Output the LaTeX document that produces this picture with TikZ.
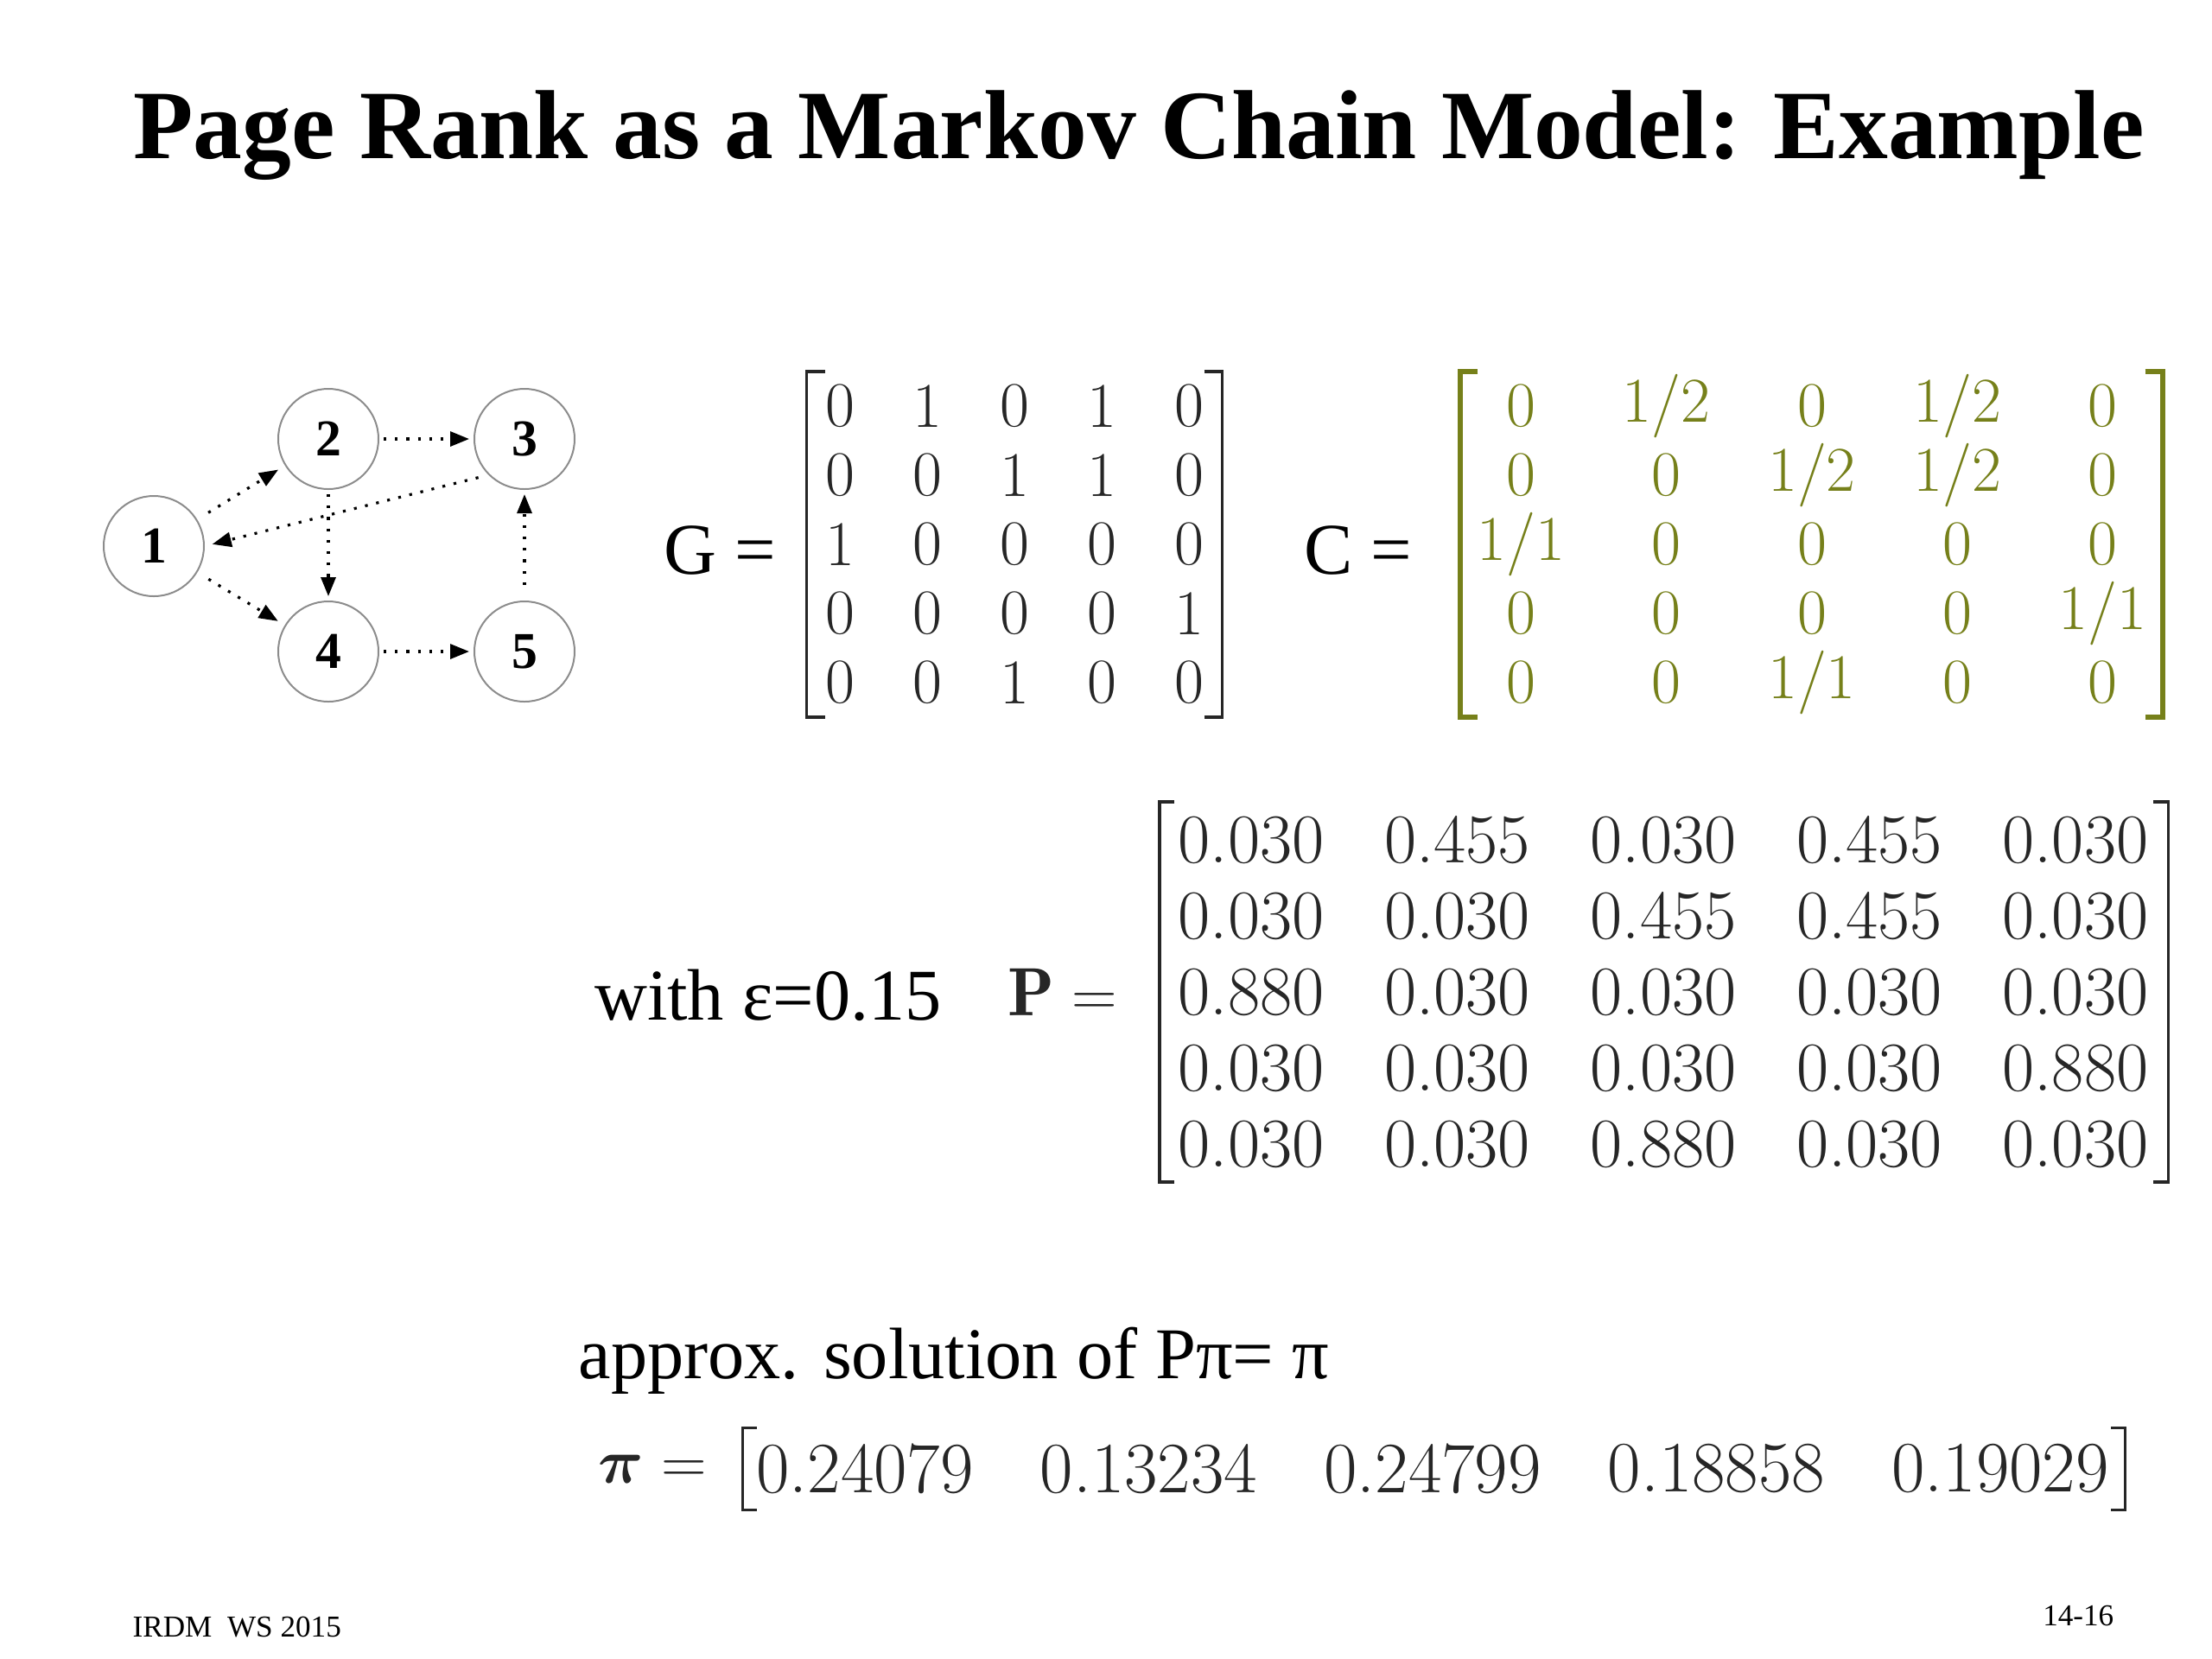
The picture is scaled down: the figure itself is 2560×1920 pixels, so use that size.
\documentclass[tikz,border=0pt]{standalone}
\usepackage{fontspec}
\usepackage{amsmath}
\usepackage{tikz}
\usetikzlibrary{arrows.meta,matrix}
\newfontfamily\slidefont{Liberation Serif}
\definecolor{Olive}{HTML}{76801A}
\definecolor{Ink}{HTML}{262626}
\definecolor{RingGray}{HTML}{8C8C8C}

\begin{document}
\begin{tikzpicture}[
    x=0.1mm,y=-0.1mm,
    vertex/.style={circle,draw=RingGray,line width=0.2mm,minimum size=11.6mm,inner sep=0pt,font=\slidefont\bfseries\fontsize{17}{17}\selectfont},
    link/.style={-{Triangle[length=2.2mm,width=1.7mm]},line width=0.32mm,dash pattern=on 0.32mm off 1mm},
    lbl/.style={inner sep=0pt,font=\slidefont\fontsize{24}{26}\selectfont},
    foot/.style={inner sep=0pt,font=\slidefont\fontsize{10}{11}\selectfont},
    mat/.style={matrix of nodes,inner sep=0pt,outer sep=0pt,text=Ink,font=\fontsize{21}{21}\selectfont,nodes={inner sep=0pt,anchor=center}},
    brk/.style={line width=0.35mm,draw=Ink}
]
\useasboundingbox (0,0) rectangle (2560,1920);

\node[font=\slidefont\bfseries\fontsize{32.3}{34}\selectfont,anchor=base] (title) at (1318,183) {Page Rank as a Markov Chain Model: Example};

% link graph
\node[vertex] (n1) at (178,632) {1};
\node[vertex] (n2) at (380,508) {2};
\node[vertex] (n3) at (607,508) {3};
\node[vertex] (n4) at (380,754) {4};
\node[vertex] (n5) at (607,754) {5};
\draw[link,shorten <=1.5mm,shorten >=0.9mm] (n1) -- (n2);
\draw[link,shorten <=1.5mm,shorten >=0.9mm] (n1) -- (n4);
\draw[link,shorten <=0.5mm,shorten >=0.5mm] (n2) -- (n3);
\draw[link,shorten <=0.5mm,shorten >=0.5mm] (n2) -- (n4);
\draw[link,shorten <=1.2mm,shorten >=0.9mm] (n3.225) -- (n1.east);
\draw[link,shorten <=0.5mm,shorten >=0.5mm] (n4) -- (n5);
\draw[link,shorten <=1.8mm,shorten >=0.5mm] (n5) -- (n3);

% adjacency matrix G
\node[lbl] (Glbl) at (833,637) {G =};
\matrix (G) [mat,nodes={minimum width=10.1mm,minimum height=8mm}] at (1174,630) {
0 & 1 & 0 & 1 & 0 \\
0 & 0 & 1 & 1 & 0 \\
1 & 0 & 0 & 0 & 0 \\
0 & 0 & 0 & 0 & 1 \\
0 & 0 & 1 & 0 & 0 \\
};
\draw[brk] ([xshift=3.3mm]G.north west) -- ([xshift=1.2mm]G.north west) -- ([xshift=1.2mm]G.south west) -- ([xshift=3.3mm]G.south west);
\draw[brk] ([xshift=-3.3mm]G.north east) -- ([xshift=-1.2mm]G.north east) -- ([xshift=-1.2mm]G.south east) -- ([xshift=-3.3mm]G.south east);

% transition matrix C
\node[lbl] (Clbl) at (1572,637) {C =};
\matrix (C) [mat,text=Olive,nodes={minimum width=16.825mm,minimum height=8mm}] at (2097,630) {
0 & 1/2 & 0 & 1/2 & 0 \\
0 & 0 & 1/2 & 1/2 & 0 \\
1/1 & 0 & 0 & 0 & 0 \\
0 & 0 & 0 & 0 & 1/1 \\
0 & 0 & 1/1 & 0 & 0 \\
};
\draw[brk,draw=Olive,line width=0.6mm] ([xshift=3.4mm]C.north west) -- ([xshift=1.4mm]C.north west) -- ([xshift=1.4mm]C.south west) -- ([xshift=3.4mm]C.south west);
\draw[brk,draw=Olive,line width=0.6mm] ([xshift=-3.5mm]C.north east) -- ([xshift=-1.5mm]C.north east) -- ([xshift=-1.5mm]C.south east) -- ([xshift=-3.5mm]C.south east);

% random surfer matrix P
\node[lbl] (eps) at (889,1152) {with ε=0.15};
\node[text=Ink,font=\fontsize{22.5}{23}\selectfont] (Plbl) at (1230,1148) {$\mathbf{P} =$};
\matrix (P) [mat,font=\fontsize{23}{23}\selectfont,nodes={minimum width=23.85mm,minimum height=8.8mm}] at (1925,1148) {
0.030 & 0.455 & 0.030 & 0.455 & 0.030 \\
0.030 & 0.030 & 0.455 & 0.455 & 0.030 \\
0.880 & 0.030 & 0.030 & 0.030 & 0.030 \\
0.030 & 0.030 & 0.030 & 0.030 & 0.880 \\
0.030 & 0.030 & 0.880 & 0.030 & 0.030 \\
};
\draw[brk] ([xshift=3mm]P.north west) -- ([xshift=1.3mm]P.north west) -- ([xshift=1.3mm]P.south west) -- ([xshift=3mm]P.south west);
\draw[brk] ([xshift=-2.9mm]P.north east) -- ([xshift=-1.2mm]P.north east) -- ([xshift=-1.2mm]P.south east) -- ([xshift=-2.9mm]P.south east);

% stationary vector
\node[lbl,anchor=base west] (approx) at (669,1595) {approx. solution of Pπ= π};
\node[text=Ink,font=\fontsize{22.5}{23}\selectfont] (pilbl) at (755,1700) {$\boldsymbol{\pi} =$};
\matrix (pi) [mat,font=\fontsize{23.8}{24}\selectfont,nodes={minimum width=32.85mm,minimum height=9.5mm}] at (1658,1700) {
0.24079 & 0.13234 & 0.24799 & 0.18858 & 0.19029 \\
};
\draw[brk,line width=0.3mm] ([xshift=3.9mm]pi.north west) -- ([xshift=2.3mm]pi.north west) -- ([xshift=2.3mm]pi.south west) -- ([xshift=3.9mm]pi.south west);
\draw[brk,line width=0.3mm] ([xshift=-3.6mm]pi.north east) -- ([xshift=-2mm]pi.north east) -- ([xshift=-2mm]pi.south east) -- ([xshift=-3.6mm]pi.south east);

\node[foot,anchor=base west] (course) at (153,1894) {IRDM\ \ WS 2015};
\node[foot,anchor=base east] (slideno) at (2447,1881) {14-16};
\end{tikzpicture}
\end{document}
